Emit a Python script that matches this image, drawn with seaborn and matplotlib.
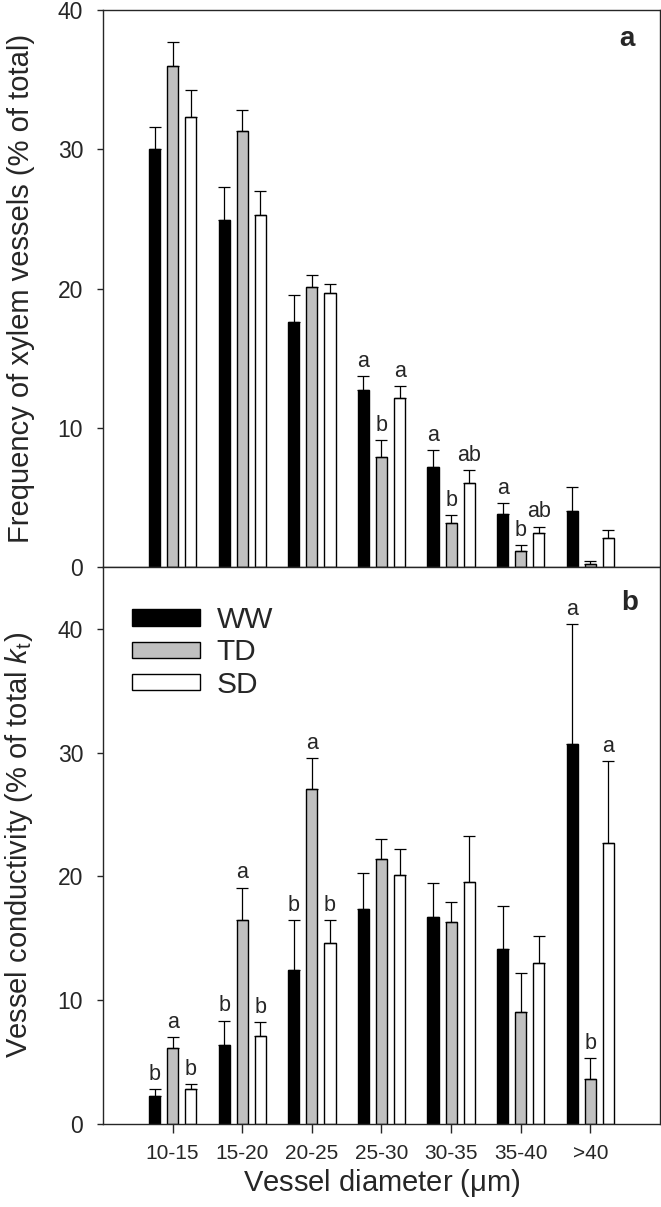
import matplotlib
matplotlib.use('Agg')
import matplotlib.pyplot as plt
from matplotlib.patches import Patch
import pandas as pd
import seaborn as sns
import numpy as np

# diameter classes and treatments
diameters = ['10-15', '15-20', '20-25', '25-30', '30-35', '35-40', '>40']
treatments = ['WW', 'TD', 'SD']
colors = ['black', '#c0c0c0', 'white']

# panel a: frequency of xylem vessels (% of total), mean and top of error bar
freq_ww = [30.0, 24.9, 17.6, 12.7, 7.15, 3.8, 4.0]
freq_td = [36.0, 31.3, 20.1, 7.9, 3.15, 1.17, 0.25]
freq_sd = [32.3, 25.25, 19.7, 12.15, 6.05, 2.45, 2.08]
freq_ww_err = [31.6, 27.3, 19.5, 13.7, 8.4, 4.6, 5.72]
freq_td_err = [37.7, 32.8, 20.95, 9.1, 3.75, 1.6, 0.4]
freq_sd_err = [34.25, 27.0, 20.35, 13.0, 6.97, 2.9, 2.66]
freq_letters = [['', '', ''], ['', '', ''], ['', '', ''], ['a', 'b', 'a'],
                ['a', 'b', 'ab'], ['a', 'b', 'ab'], ['', '', '']]

# panel b: vessel conductivity (% of total kt)
cond_ww = [2.26, 6.4, 12.4, 17.35, 16.75, 14.17, 30.68]
cond_td = [6.1, 16.5, 27.05, 21.4, 16.3, 9.02, 3.6]
cond_sd = [2.83, 7.1, 14.65, 20.1, 19.55, 13.03, 22.73]
cond_ww_err = [2.8, 8.35, 16.5, 20.26, 19.45, 17.6, 40.4]
cond_td_err = [7.0, 19.1, 29.55, 23.0, 17.9, 12.2, 5.33]
cond_sd_err = [3.2, 8.2, 16.5, 22.2, 23.27, 15.2, 29.3]
cond_letters = [['b', 'a', 'b'], ['b', 'a', 'b'], ['b', 'a', 'b'], ['', '', ''],
                ['', '', ''], ['', '', ''], ['a', 'b', 'a']]


def to_frame(ww, td, sd):
    rows = []
    for t, vals in zip(treatments, [ww, td, sd]):
        for d, v in zip(diameters, vals):
            rows.append({'Diameter': d, 'Treatment': t, 'Value': v})
    return pd.DataFrame(rows)


sns.set_style('ticks')
plt.rcParams['font.family'] = ['Liberation Sans', 'DejaVu Sans']
plt.rcParams['mathtext.fontset'] = 'custom'
plt.rcParams['mathtext.rm'] = 'Liberation Sans'
plt.rcParams['mathtext.it'] = 'Liberation Sans:italic'

fig = plt.figure(figsize=(6.61, 12.07), dpi=100)
ax1 = fig.add_axes([0.1558, 0.5302, 0.8427, 0.4615])
ax2 = fig.add_axes([0.1558, 0.0688, 0.8427, 0.4615])


def draw_panel(ax, data, errs, letters, ymax):
    sns.barplot(data=data, x='Diameter', y='Value', hue='Treatment', order=diameters,
                hue_order=treatments, palette=colors, edgecolor='black', linewidth=1.0,
                width=0.78, gap=0.38, errorbar=None, legend=False, ax=ax)
    bar_conts = list(ax.containers)  # one per treatment, before errorbars get added
    for i, cont in enumerate(bar_conts):
        for j, bar in enumerate(cont):
            xc = bar.get_x() + bar.get_width() / 2
            h = bar.get_height()
            ax.errorbar(xc, h, yerr=[[0], [errs[i][j] - h]], fmt='none', ecolor='black',
                        elinewidth=0.9, capsize=4.2, capthick=0.9, zorder=1)
            if letters[j][i]:
                ax.annotate(letters[j][i], (xc, errs[i][j]), xytext=(0, 3),
                            textcoords='offset points', ha='center', va='bottom', fontsize=15.5)
    ax.set_xlim(-1, 7)
    ax.set_ylim(0, ymax)
    ax.set_yticks([0, 10, 20, 30, 40])
    for s in ax.spines.values():
        s.set_linewidth(1.0)
        s.set_visible(True)
    ax.tick_params(axis='y', direction='out', length=4.3, width=1.0, pad=10, labelsize=16.5)


draw_panel(ax1, to_frame(freq_ww, freq_td, freq_sd),
           [freq_ww_err, freq_td_err, freq_sd_err], freq_letters, 40)
draw_panel(ax2, to_frame(cond_ww, cond_td, cond_sd),
           [cond_ww_err, cond_td_err, cond_sd_err], cond_letters, 45)

ax1.tick_params(axis='x', bottom=False, labelbottom=False)
ax1.set_xlabel('')
ax1.set_ylabel('Frequency of xylem vessels (% of total)', fontsize=21)
ax1.yaxis.set_label_coords(-0.122, 0.5)
ax1.text(0.941, 0.948, 'a', transform=ax1.transAxes, fontsize=20, fontweight='bold',
         ha='center', va='center')

ax2.tick_params(axis='x', direction='out', length=6.5, width=1.0, pad=8, labelsize=15)
ax2.set_xlabel(r'Vessel diameter ($\mathrm{\mu}$m)', fontsize=21, labelpad=3)
ax2.set_ylabel(r'Vessel conductivity (% of total $k_{\mathrm{t}}$)', fontsize=21)
ax2.yaxis.set_label_coords(-0.122, 0.5)
ax2.text(0.946, 0.935, 'b', transform=ax2.transAxes, fontsize=20, fontweight='bold',
         ha='center', va='center')

handles = [Patch(facecolor=c, edgecolor='black', linewidth=1.0) for c in colors]
ax2.legend(handles, treatments, loc='upper left', bbox_to_anchor=(0.052, 0.93),
           frameon=False, fontsize=21.5, handlelength=2.27, handleheight=0.47,
           handletextpad=0.57, labelspacing=0.15, borderpad=0, borderaxespad=0)

plt.savefig('out.png', dpi=100)
